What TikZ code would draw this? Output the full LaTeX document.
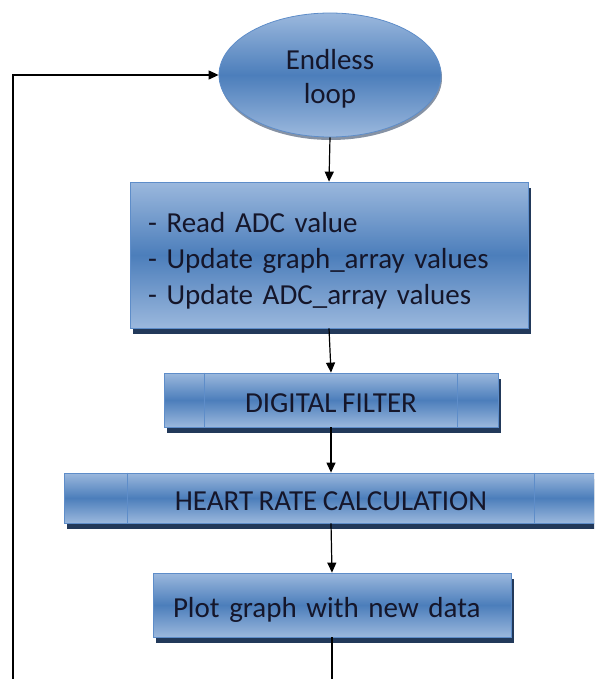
\documentclass[tikz,border=0pt]{standalone}
\usepackage{fontspec}
\setmainfont[WordSpace=0.85]{Carlito}
\usetikzlibrary{arrows.meta,shapes.geometric,shadows}

\definecolor{boxlight}{HTML}{9BB8DD}
\definecolor{boxmid}{HTML}{4C7EBB}
\definecolor{boxedge}{HTML}{5E8DC9}
\definecolor{boxshadow}{HTML}{22395A}
\definecolor{inktext}{HTML}{15162A}

\tikzset{
  shaded/.style={draw=boxedge, line width=0.8pt,
    top color=boxlight, bottom color=boxlight, middle color=boxmid,
    text=inktext, inner sep=0pt},
  flowbox/.style={shaded, rectangle,
    drop shadow={shadow xshift=3pt, shadow yshift=-6pt, fill=boxshadow, opacity=1}},
  oneline/.style={text height=26pt, text depth=2pt},
  terminal/.style={shaded, ellipse,
    drop shadow={shadow xshift=1pt, shadow yshift=-3pt, fill=boxshadow, opacity=0.55}},
  boxtext/.style={text=inktext, inner sep=0pt},
  flowarrow/.style={draw=black, line width=1.2pt, -{Triangle[length=10pt,width=9pt]}},
  flowline/.style={draw=black, line width=1.2pt},
  procline/.style={draw=boxedge, line width=0.8pt},
  label font/.style={font=\fontsize{29}{36}\selectfont}
}

\begin{document}
\begin{tikzpicture}[x=1pt, y=-1pt, label font]
  \useasboundingbox (0,0) rectangle (594,679);
  \clip (0,0) rectangle (594,679);

  % start of the loop
  \node[terminal, minimum width=222pt, minimum height=124pt] (loop) at (330,75) {};
  \node[boxtext, align=center] (looptext) at ([yshift=-4pt]loop.center)
    {Endless\\[-2pt]loop};

  % acquisition step
  \node[flowbox, minimum width=398pt, minimum height=146pt] (read) at (329,255) {};
  \node[boxtext, text width=362pt, align=left] (readtext) at ([yshift=-6pt]read.center)
    {- Read ADC value\\
     - Update graph\_array values\\
     - Update ADC\_array values};

  % predefined processes
  \node[flowbox, oneline, minimum width=334pt, minimum height=54pt] (filt) at (331,400)
    {DIGITAL FILTER};
  \draw[procline] ([xshift=41pt]filt.north west) -- ([xshift=41pt]filt.south west);
  \draw[procline] ([xshift=-41pt]filt.north east) -- ([xshift=-41pt]filt.south east);

  \node[flowbox, oneline, minimum width=534pt, minimum height=50pt] (rate) at (331,498)
    {HEART RATE CALCULATION};
  \draw[procline] ([xshift=64pt]rate.north west) -- ([xshift=64pt]rate.south west);
  \draw[procline] ([xshift=-64pt]rate.north east) -- ([xshift=-64pt]rate.south east);

  % output step
  \node[flowbox, oneline, minimum width=358pt, minimum height=64pt,
        text width=318pt, inner xsep=20pt, align=left] (plot) at (332,605)
    {Plot graph with new data};

  % connectors
  \coordinate (loopfoot) at (13,679);
  \coordinate (plotfoot) at (332,679);

  \draw[flowarrow] (loop.south) -- (read.north);
  \draw[flowarrow] (read.south) -- (filt.north);
  \draw[flowarrow] (filt.south) -- (rate.north);
  \draw[flowarrow] (rate.south) -- (plot.north);
  \draw[flowline] (plot.south) -- (plotfoot);
  \draw[flowarrow] (loopfoot) |- (loop.west);
\end{tikzpicture}
\end{document}
